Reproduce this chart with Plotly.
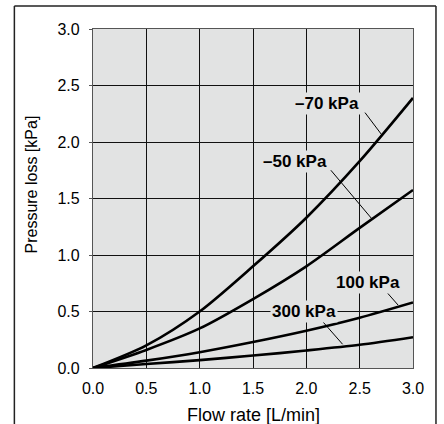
import plotly.graph_objects as go

# ---- data ----
flow = [0.0, 0.5, 1.0, 1.5, 2.0, 2.5, 3.0]
loss_m70 = [0.0, 0.20, 0.50, 0.90, 1.33, 1.83, 2.39]
loss_m50 = [0.0, 0.16, 0.35, 0.61, 0.90, 1.24, 1.575]
loss_100 = [0.0, 0.065, 0.14, 0.23, 0.33, 0.445, 0.58]
loss_300 = [0.0, 0.035, 0.07, 0.11, 0.155, 0.205, 0.272]

series_names = ["–70 kPa", "–50 kPa", "100 kPa", "300 kPa"]
series_values = [loss_m70, loss_m50, loss_100, loss_300]

# label text positions (data units) and leader lines (from -> to)
label_pos = [(2.19, 2.345), (1.89, 1.83), (2.58, 0.757), (1.98, 0.50)]
leader_from = [(2.55, 2.26), (2.23, 1.75), (2.75, 0.675), (2.14, 0.425)]
leader_to = [(2.71, 2.06), (2.61, 1.325), (2.86, 0.557), (2.34, 0.21)]

tick_vals = [0.0, 0.5, 1.0, 1.5, 2.0, 2.5, 3.0]
tick_text = ["0.0", "0.5", "1.0", "1.5", "2.0", "2.5", "3.0"]

FONT = "Liberation Sans, Arial, Helvetica, sans-serif"
BG = "#e2e3e3"

fig = go.Figure()
for name, vals in zip(series_names, series_values):
    fig.add_trace(go.Scatter(x=flow, y=vals, mode="lines", name=name,
                             line=dict(color="black", width=2.6, shape="spline", smoothing=0.8),
                             showlegend=False, hoverinfo="skip"))

for (x0, y0), (x1, y1) in zip(leader_from, leader_to):
    fig.add_trace(go.Scatter(x=[x0, x1], y=[y0, y1], mode="lines",
                             line=dict(color="black", width=1),
                             showlegend=False, hoverinfo="skip"))

annotations = []
for name, (lx, ly) in zip(series_names, label_pos):
    annotations.append(dict(x=lx, y=ly, xref="x", yref="y", text="<b>%s</b>" % name,
                            showarrow=False, font=dict(family=FONT, size=17, color="black"),
                            bgcolor=BG, borderpad=1))

annotations.append(dict(x=0.5, y=-0.139, xref="paper", yref="paper", text="Flow rate [L/min]",
                        showarrow=False, font=dict(family=FONT, size=18, color="black"),
                        xanchor="center", yanchor="middle"))
annotations.append(dict(x=-0.192, y=0.54, xref="paper", yref="paper", text="Pressure loss [kPa]",
                        showarrow=False, textangle=-90, font=dict(family=FONT, size=16, color="black"),
                        xanchor="center", yanchor="middle"))

frame = dict(color="#222222", width=1.5)
top = 1.0678
fig.update_layout(
    width=444, height=424,
    margin=dict(l=93, r=31, t=29, b=56),
    paper_bgcolor="white", plot_bgcolor=BG,
    font=dict(family=FONT, size=16, color="black"),
    annotations=annotations,
    shapes=[
        dict(type="line", xref="paper", yref="paper", x0=-0.2457, x1=1.0718, y0=top, y1=top, line=frame),
        dict(type="line", xref="paper", yref="paper", x0=-0.2457, x1=-0.2457, y0=-0.25, y1=top, line=frame),
        dict(type="line", xref="paper", yref="paper", x0=1.0718, x1=1.0718, y0=-0.25, y1=top, line=frame),
    ],
)
fig.update_xaxes(range=[0, 3.0], tickvals=tick_vals, ticktext=tick_text,
                 showgrid=True, gridcolor="#111111", gridwidth=1.2,
                 showline=True, linecolor="#555555", linewidth=1.2, mirror=True,
                 zeroline=False, ticks="", ticklabelstandoff=6,
                 tickfont=dict(family=FONT, size=16, color="black"))
fig.update_yaxes(range=[0, 3.0], tickvals=tick_vals, ticktext=tick_text,
                 showgrid=True, gridcolor="#111111", gridwidth=1.2,
                 showline=True, linecolor="#555555", linewidth=1.2, mirror=True,
                 zeroline=False, ticks="outside", ticklen=3, tickcolor="#555555",
                 ticklabelstandoff=6,
                 tickfont=dict(family=FONT, size=16, color="black"))

fig.write_html("out.html", config={"displayModeBar": False},
               post_script="document.body.style.margin='0';document.body.style.overflow='hidden';")
